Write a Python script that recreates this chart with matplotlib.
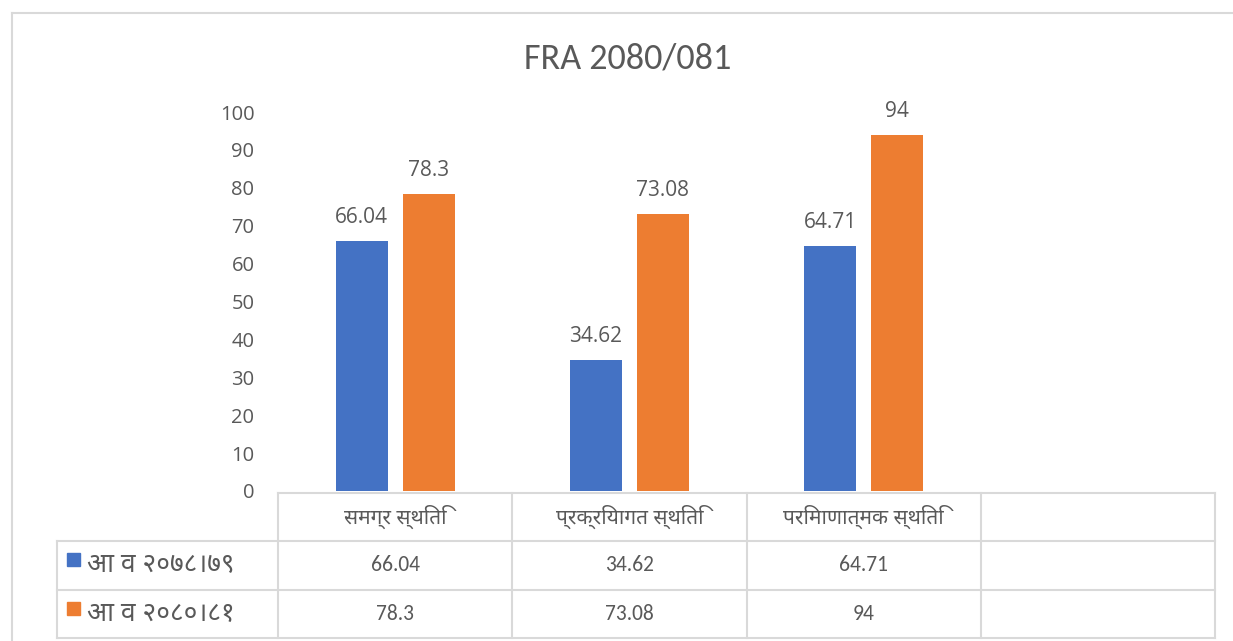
import matplotlib
matplotlib.use('Agg')
import matplotlib.pyplot as plt
from matplotlib import font_manager
from matplotlib.lines import Line2D
from matplotlib.patches import Rectangle
import numpy as np

# chart data
categories = ['समग्र स्थिति', 'प्रक्रियागत स्थिति', 'परिमाणात्मक स्थिति', '']
series_names = ['आ व २०७८।७९', 'आ व २०८०।८१']
values_7879 = [66.04, 34.62, 64.71]
values_8081 = [78.3, 73.08, 94]
labels_7879 = ['66.04', '34.62', '64.71']
labels_8081 = ['78.3', '73.08', '94']
yticks = [0, 10, 20, 30, 40, 50, 60, 70, 80, 90, 100]
title = 'FRA 2080/081'

colors = ['#4472C4', '#ED7D31']
text_color = '#595959'
line_color = '#D9D9D9'

# pick fonts that are installed
installed = {f.name for f in font_manager.fontManager.ttflist}
def pick(*names):
    for n in names:
        if n in installed:
            return n
    return 'DejaVu Sans'

narrow = pick('Carlito', 'Liberation Sans Narrow', 'Open Sans')
ui = pick('Open Sans', 'Noto Sans')
deva = pick('Noto Sans Devanagari', 'Mukta', 'Hind', 'Annapurna SIL')
plt.rcParams['font.family'] = [ui, 'DejaVu Sans']

W, H = 1233, 641
fig = plt.figure(figsize=(W / 100, H / 100), dpi=100)

# outer chart frame (runs off the right and bottom of the picture)
fig.add_artist(Line2D([12.5 / W, 12.5 / W], [0, 1 - 13 / H], transform=fig.transFigure,
                      color=line_color, lw=1.5))
fig.add_artist(Line2D([12.5 / W, 1], [1 - 13 / H, 1 - 13 / H], transform=fig.transFigure,
                      color=line_color, lw=1.5))

fig.text(628 / W, 1 - 58 / H, title, ha='center', va='center', fontsize=26,
         color=text_color, family=[narrow, 'DejaVu Sans'])

# bars
ax = fig.add_axes([278 / W, (H - 491) / H, 937 / W, 379 / H])
x = np.arange(len(values_7879))
off, bw = 0.143, 0.222
ax.bar(x - off, values_7879, width=bw, color=colors[0])
ax.bar(x + off, values_8081, width=bw, color=colors[1])
for xs, vals, labs in [(x - off, values_7879, labels_7879), (x + off, values_8081, labels_8081)]:
    for xi, v, lab in zip(xs, vals, labs):
        ax.annotate(lab, (xi, v), xytext=(0, 13), textcoords='offset points',
                    ha='center', va='baseline', fontsize=15, color=text_color)

ax.set_xlim(-0.5, len(categories) - 0.5)
ax.set_ylim(0, 100)
ax.set_yticks(yticks)
ax.set_xticks([])
ax.tick_params(axis='y', length=0, pad=17, labelsize=14.5, labelcolor=text_color)
for s in ax.spines.values():
    s.set_visible(False)

# data table under the plot
left_w = (278 - 57) / 234.25
tax = fig.add_axes([57 / W, (H - 638) / H, (1215 - 57) / W, (638 - 492.5) / H])
x0 = -0.5 - left_w
tax.set_xlim(x0, len(categories) - 0.5)
tax.set_ylim(3, 0)
tax.axis('off')

kw = dict(color=line_color, lw=1.5, clip_on=False, solid_capstyle='projecting')
tax.plot([-0.5, len(categories) - 0.5], [0, 0], **kw)
for r in [1, 2, 3]:
    tax.plot([x0, len(categories) - 0.5], [r, r], **kw)
tax.plot([x0, x0], [1, 3], **kw)
for c in np.arange(len(categories) + 1) - 0.5:
    tax.plot([c, c], [0, 3], **kw)

for i, cat in enumerate(categories):
    tax.text(i, 0.5, cat, ha='center', va='center', fontsize=15, color=text_color,
             family=[deva, 'DejaVu Sans'])

rows = [labels_7879, labels_8081]
for r, (name, labs) in enumerate(zip(series_names, rows)):
    y = r + 1
    tax.add_patch(Rectangle((x0 + 10 / 234.25, y + 0.25), 13 / 234.25, 0.267,
                            color=colors[r], clip_on=False))
    tax.text(x0 + 30 / 234.25, y + 0.5, name, ha='left', va='center', fontsize=19,
             color=text_color, family=[deva, 'DejaVu Sans'])
    for i, lab in enumerate(labs):
        tax.text(i, y + 0.5, lab, ha='center', va='center', fontsize=15.5,
                 color=text_color, family=[narrow, 'DejaVu Sans'])

fig.savefig('out.png', dpi=100)
